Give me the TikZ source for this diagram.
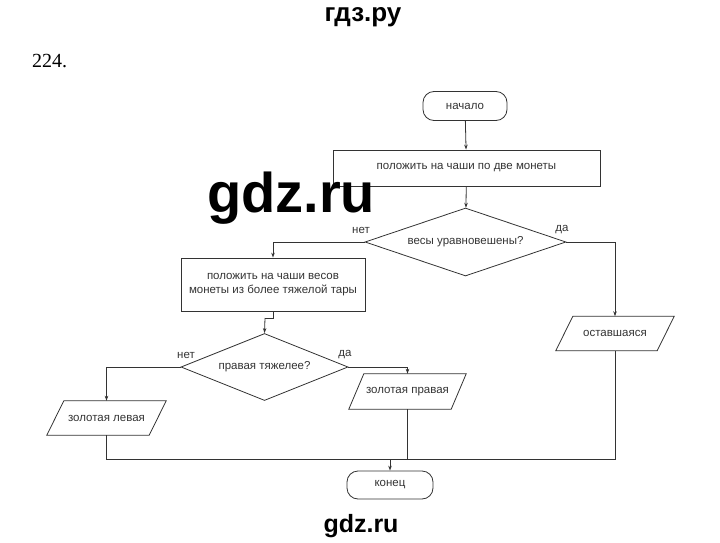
\documentclass[tikz,border=0pt]{standalone}
\usepackage{fontspec}
\setmainfont{Liberation Sans}
\newfontfamily\serifnum{Liberation Serif}
\usetikzlibrary{shapes.geometric,arrows.meta}
\definecolor{ink}{HTML}{333333}
\tikzset{
  every node/.style={font=\fontsize{11.5}{14}\selectfont, text=ink},
  term/.style={draw=ink, line width=0.8pt, rectangle, rounded corners=11pt, minimum width=84pt, minimum height=29pt, inner sep=0pt},
  procbox/.style={draw=ink, line width=0.8pt, rectangle, inner sep=0pt, align=center},
  decis/.style={draw=ink, line width=0.8pt, diamond, inner sep=0pt, aspect=2.8},
  iobox/.style={rectangle, inner sep=0pt, minimum height=34pt, minimum width=118pt},
  lbl/.style={inner sep=0pt},
  conn/.style={draw=ink, line width=0.8pt},
  arr/.style={conn, -{Stealth[length=5pt,width=3.5pt]}},
  wm/.style={text=black, inner sep=0pt, anchor=base}
}
\newcommand\ioshape[2]{\draw[conn] (#1.south west) -- ([xshift=#2]#1.north west) -- (#1.north east) -- ([xshift=-#2]#1.south east) -- cycle;}
\begin{document}
\begin{tikzpicture}[x=1pt,y=-1pt]
\useasboundingbox (0,0) rectangle (720,543);
% header
\node[wm, font=\fontsize{26}{28}\selectfont\bfseries] (hdr) at (363,22) {гдз.ру};
\node[text=black, inner sep=0pt, anchor=base west, font=\serifnum\fontsize{20}{22}\selectfont] (num) at (32,67) {224.};
% nodes
\node[term] (start) at (465,106) {начало};
\node[procbox, minimum width=267pt, minimum height=36pt] (b1) at (466.5,168) {положить на чаши по две монеты};
\node[decis, minimum width=201pt, minimum height=68pt] (d1) at (465.5,242) {весы уравновешены?};
\node[procbox, minimum width=184pt, minimum height=53pt] (b2) at (273,284.5) {положить на чаши весов\\монеты из более тяжелой тары};
\node[decis, minimum width=167pt, minimum height=67pt] (d2) at (264.5,367) {правая тяжелее?};
\node[iobox, minimum width=119pt] (pl) at (106.5,418) {золотая левая};
\node[iobox, minimum width=117pt, minimum height=35pt] (pr) at (407.5,391.5) {золотая правая};
\node[iobox] (po) at (615,333.5) {оставшаяся};
\node[term, minimum width=86pt, minimum height=28pt] (end) at (390,485) {конец};
\ioshape{pl}{17pt}
\ioshape{pr}{15pt}
\ioshape{po}{17pt}
% labels
\node[lbl] (n1) at (361,230) {нет};
\node[lbl] (y1) at (562,230) {да};
\node[lbl] (n2) at (186,355) {нет};
\node[lbl] (y2) at (345,355) {да};
% helper coordinates
\coordinate (j1) at (273,318);
\coordinate (j2) at (265,318);
\coordinate (jb) at (390,459);
% connectors
\draw[arr] (start) -- (b1);
\draw[arr] (b1) -- (d1);
\draw[arr] (d1.west) -| (b2.north);
\draw[arr] (d1.east) -| (po.north);
\draw[conn] (b2.south) -- (j1) -- (j2);
\draw[arr] (j2) -- (d2.north);
\draw[arr] (d2.west) -| (pl.north);
\draw[arr] (d2.east) -| (pr.north);
\draw[conn] (pl.south) |- (jb);
\draw[conn] (po.south) |- (jb);
\draw[conn] (pr.south) -- (pr.south |- jb);
\draw[arr] (jb) -- (end);
% watermarks
\node[wm, font=\fontsize{56}{60}\selectfont\bfseries] (wm1) at (291,212) {gdz.ru};
\node[wm, font=\fontsize{25}{28}\selectfont\bfseries] (wm2) at (361,532) {gdz.ru};
\end{tikzpicture}
\end{document}
